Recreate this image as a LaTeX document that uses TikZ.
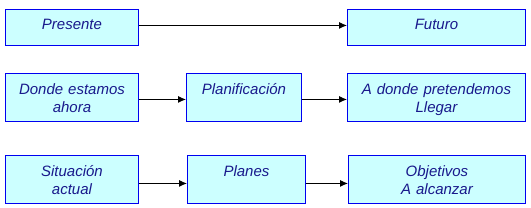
\documentclass[tikz,border=0pt]{standalone}
\usepackage{fontspec}
\setmainfont{Liberation Sans}
\usepackage{xcolor}
\usetikzlibrary{arrows.meta}
\definecolor{boxblue}{RGB}{0,0,240}
\definecolor{boxfill}{RGB}{204,255,255}
\definecolor{txtblue}{RGB}{25,25,140}
\begin{document}
\begin{tikzpicture}[x=1pt, y=-1pt,
  font=\fontsize{15}{18}\selectfont\itshape,
  stage/.style={draw=boxblue, fill=boxfill, line width=0.9pt, text=txtblue,
    anchor=north west, inner sep=0pt, align=center, text width=#1},
  short/.style={text height=20pt, text depth=16pt},
  tall/.style={text height=21pt, text depth=27pt},
  link/.style={black, line width=0.9pt, -{Latex[length=8pt, width=7pt]}}]
  \useasboundingbox (0,0) rectangle (531,208);
  % top row
  \node[stage=133pt, short] (pres) at (5,9) {Presente};
  \node[stage=178pt, short] (fut) at (347,9) {Futuro};
  % middle row
  \node[stage=133pt, tall] (donde) at (5,73) {Donde estamos\\ahora};
  \node[stage=115pt, tall] (plan) at (186,73) {Planificación};
  \node[stage=178pt, tall] (adonde) at (347,73) {A donde pretendemos\\Llegar};
  % bottom row
  \node[stage=133pt, tall] (sit) at (5,155) {Situación\\actual};
  \node[stage=118pt, tall] (planes) at (187,155) {Planes};
  \node[stage=177pt, tall] (obj) at (348,155) {Objetivos\\A alcanzar};
  % connectors
  \draw[link] ([yshift=2pt]pres.east) -- ([yshift=2pt]fut.west);
  \draw[link] ([yshift=-2pt]donde.east) -- ([yshift=-2pt]plan.west);
  \draw[link] ([yshift=-2pt]plan.east) -- ([yshift=-2pt]adonde.west);
  \draw[link] ([yshift=-4pt]sit.east) -- ([yshift=-4pt]planes.west);
  \draw[link] ([yshift=-4pt]planes.east) -- ([yshift=-4pt]obj.west);
\end{tikzpicture}
\end{document}
